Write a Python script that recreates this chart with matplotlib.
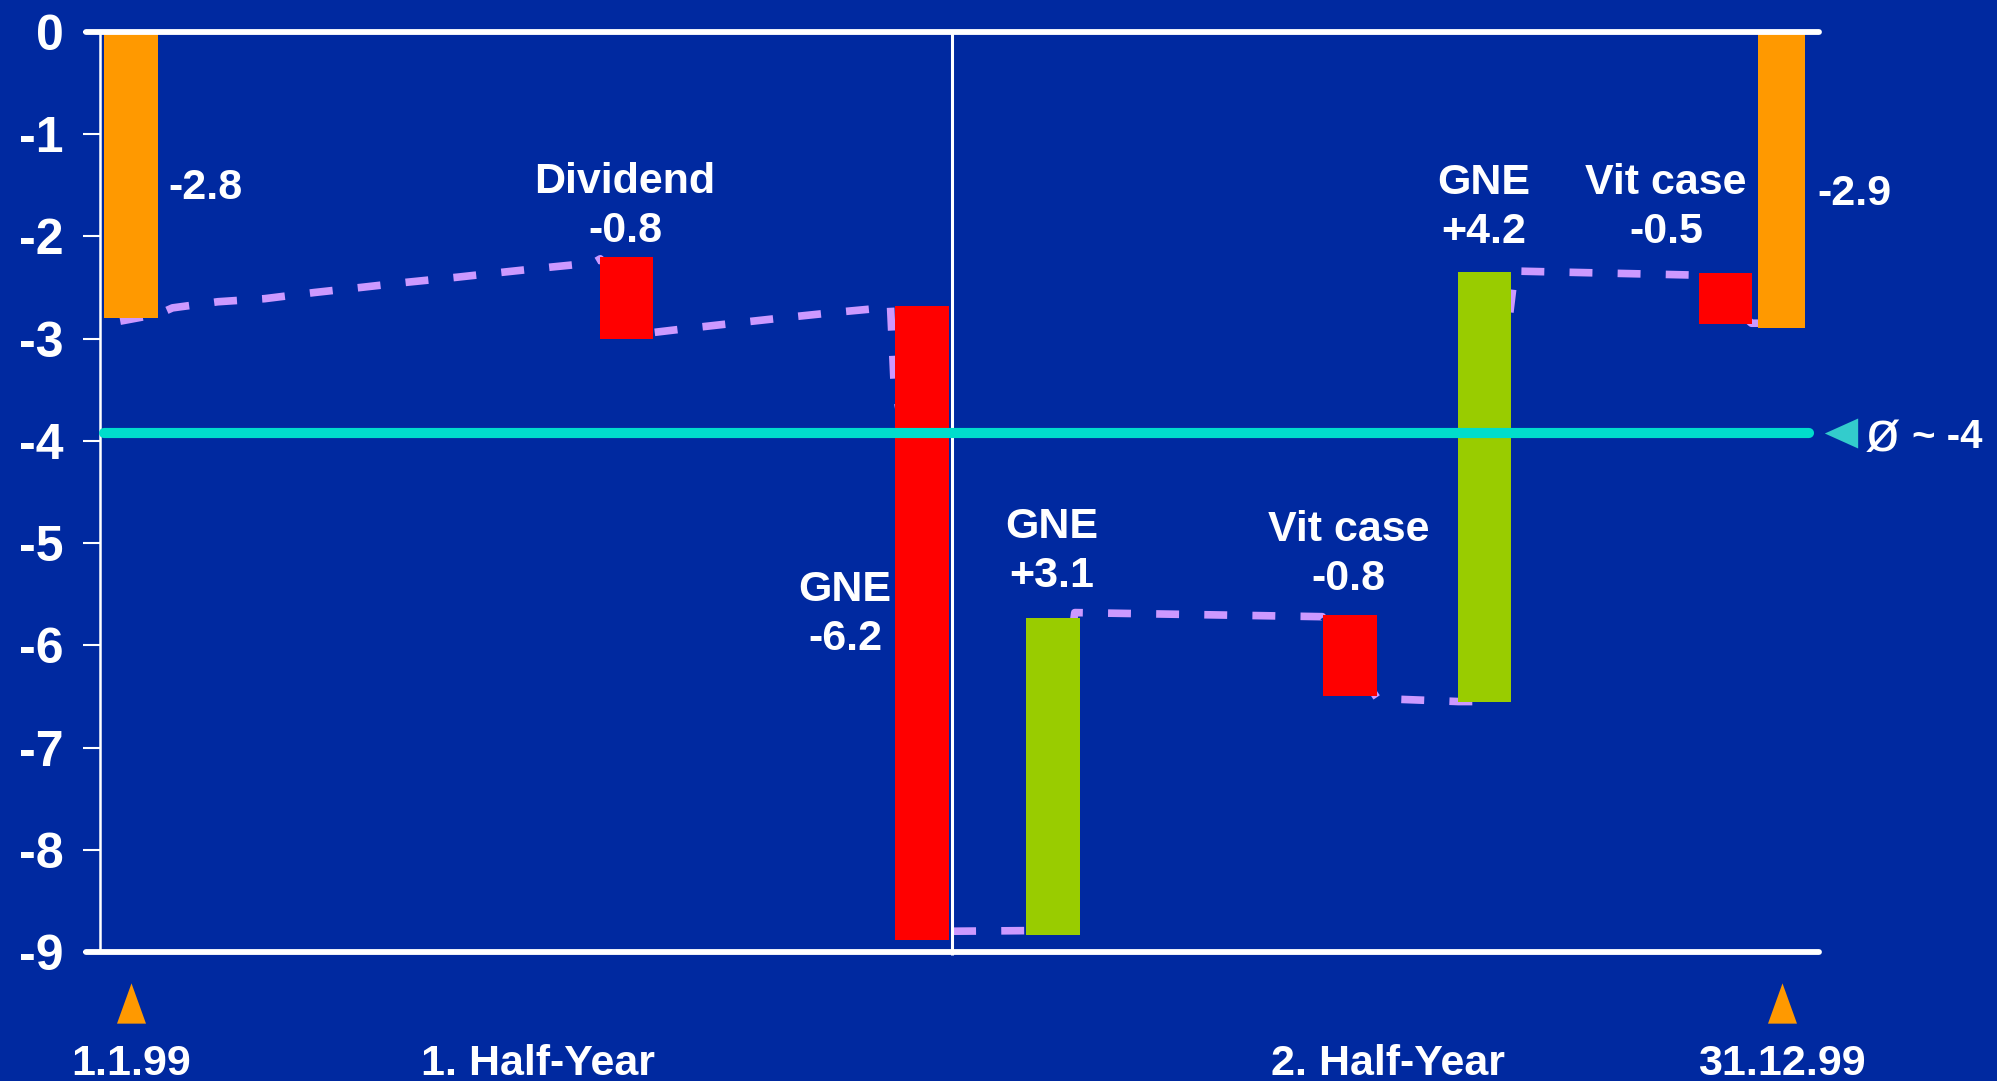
import matplotlib
matplotlib.use("Agg")
import matplotlib.pyplot as plt

plt.rcParams['font.family'] = ['Liberation Sans', 'DejaVu Sans']

# --- data -------------------------------------------------------------
# bars: position in months (0 = 1.1.99, 12 = 31.12.99), where the bar starts, change
bar_month = [0.0, 3.6, 5.75, 6.7, 8.86, 9.84, 11.59, 12.0]
bar_start = [0.0, -2.2, -2.68, -8.83, -5.70, -6.55, -2.36, 0.0]
bar_delta = [-2.8, -0.8, -6.2, 3.1, -0.8, 4.2, -0.5, -2.9]
bar_kind = ['level', 'minus', 'minus', 'plus', 'minus', 'plus', 'minus', 'level']
bar_name = ['', 'Dividend', 'GNE', 'GNE', 'Vit case', 'GNE', 'Vit case', '']

# development over the year (dashed line)
dev_month = [-0.08, 0.2, 0.3, 0.63, 0.97, 1.33, 1.67, 2.0, 2.37, 2.71, 3.06, 3.36,
             3.41, 3.8, 4.05, 4.45, 4.79, 5.15, 5.47, 5.52, 5.545, 5.62, 5.62,
             6.55, 6.86, 8.66, 9.06, 9.65, 9.9, 10.0, 10.06, 11.39, 11.78, 11.86]
dev_value = [-2.83, -2.76, -2.70, -2.64, -2.61, -2.55, -2.50, -2.45, -2.40, -2.35, -2.30, -2.26,
             -2.22, -2.94, -2.90, -2.84, -2.79, -2.74, -2.70, -2.67, -3.4, -4.0, -8.80,
             -8.79, -5.68, -5.72, -6.52, -6.55, -6.55, -3.0, -2.34, -2.38, -2.85, -2.85]

avg_value = -3.92
avg_label = '~ -4'
yticks = [0, -1, -2, -3, -4, -5, -6, -7, -8, -9]
period_labels = ['1.1.99', '1. Half-Year', '2. Half-Year', '31.12.99']
period_month = [0.0, 2.96, 9.14, 12.0]

# --- style ------------------------------------------------------------
BG = '#0029A0'
colors = {'level': '#FF9900', 'minus': '#FF0000', 'plus': '#99CC00'}
bar_width = [0.39, 0.39, 0.39, 0.39, 0.39, 0.39, 0.39, 0.34]

fig = plt.figure(figsize=(19.97, 10.81), dpi=100, facecolor=BG)
ax = fig.add_axes([0, 0, 1, 1], facecolor=BG)
ax.set_xlim(-0.954, 13.565)
ax.set_ylim(-10.261, 0.311)

# dashed development line
ax.plot(dev_month, dev_value, color='#CC99FF', lw=5.5, dashes=(3.0, 3.3), zorder=1)

# floating bars
for m, s, d, k, w in zip(bar_month, bar_start, bar_delta, bar_kind, bar_width):
    ax.bar(m, d, bottom=s, width=w, color=colors[k], zorder=2)

# frame lines
ax.hlines([0, -9], -0.33, 12.27, color='white', lw=4.2, capstyle='round', zorder=3)
ax.vlines(5.97, -9.03, 0, color='white', lw=2.2, zorder=3)

# average line with marker
ax.plot([-0.2, 12.2], [avg_value, avg_value], color='#00DDCC', lw=7.3,
        solid_capstyle='round', zorder=4)
ax.plot(12.43, avg_value, marker=[(0.5, 0.45), (0.5, -0.45), (-0.5, 0)],
        markersize=24, color='#33CCCC', mec='none', clip_on=False, zorder=4)
ax.text(12.73, avg_value - 0.03, '\u00f8', color='white', fontsize=42,
        ha='center', va='center')
ax.text(12.95, avg_value - 0.04, avg_label, color='white', fontsize=29,
        fontweight='bold', ha='left', va='center')

# y axis
for side in ['top', 'right', 'bottom']:
    ax.spines[side].set_visible(False)
ax.spines['left'].set_position(('data', -0.23))
ax.spines['left'].set_bounds(-9, 0)
ax.spines['left'].set_color('white')
ax.spines['left'].set_linewidth(1.8)
ax.set_yticks(yticks)
ax.set_yticklabels([str(t) for t in yticks], fontweight='bold')
ax.tick_params(axis='y', direction='out', length=12, width=1.5, color='white',
               labelcolor='white', labelsize=36, pad=14)
ax.set_xticks([])

# bar annotations
txt = dict(color='white', fontsize=31, fontweight='bold', linespacing=1.28)
ax.text(0.27, -1.53, f'{bar_delta[0]:.1f}', ha='left', va='center', **txt)
ax.text(12.26, -1.59, f'{bar_delta[7]:.1f}', ha='left', va='center', **txt)
label_pos = {1: (3.59, -1.71), 2: (5.19, -5.70), 3: (6.69, -5.08),
             4: (8.85, -5.11), 5: (9.83, -1.72), 6: (11.16, -1.72)}
for i, (x, y) in label_pos.items():
    ax.text(x, y, f'{bar_name[i]}\n{bar_delta[i]:+.1f}', ha='center', va='center', **txt)

# period markers and labels
ax.plot([period_month[0], period_month[3]], [-9.5, -9.5], ls='none',
        marker=[(-0.36, -0.5), (0.36, -0.5), (0, 0.5)], markersize=29,
        color='#FF9900', mec='none')
for m, lab in zip(period_month, period_labels):
    ax.text(m, -10.09, lab, ha='center', va='center', **txt)

fig.savefig('out.png', dpi=100, facecolor=BG)
